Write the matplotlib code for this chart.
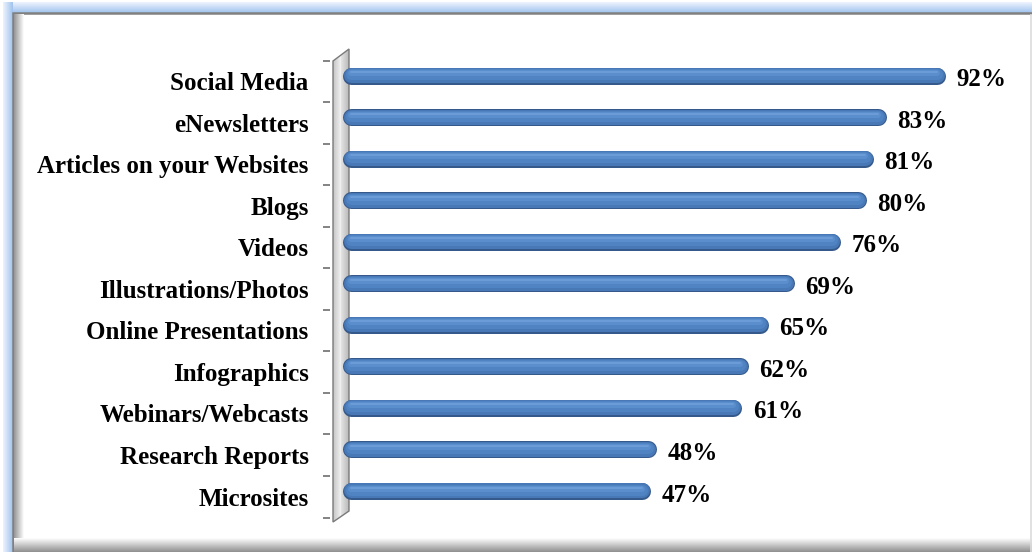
import matplotlib
matplotlib.use("Agg")
import matplotlib.pyplot as plt
import numpy as np
from matplotlib.patches import Polygon, Rectangle
from matplotlib.transforms import offset_copy, ScaledTranslation

categories = [
    "Social Media",
    "eNewsletters",
    "Articles on your Websites",
    "Blogs",
    "Videos",
    "Illustrations/Photos",
    "Online Presentations",
    "Infographics",
    "Webinars/Webcasts",
    "Research Reports",
    "Microsites",
]
values = [92, 83, 81, 80, 76, 69, 65, 62, 61, 48, 47]

W, H, DPI = 1032, 552, 100
plt.rcParams["font.family"] = ["Liberation Serif", "DejaVu Serif"]

fig = plt.figure(figsize=(W / DPI, H / DPI), dpi=DPI)
fig.patch.set_facecolor("white")

# background layer in pixel coordinates: frame, glow, wall
bg = fig.add_axes([0, 0, 1, 1], zorder=0)
bg.set_xlim(0, W)
bg.set_ylim(H, 0)
bg.axis("off")


def grad(ax, extent, c0, c1, horizontal=True, clip=None, z=1):
    t = np.linspace(0, 1, 64)
    c0 = np.array(matplotlib.colors.to_rgb(c0))
    c1 = np.array(matplotlib.colors.to_rgb(c1))
    g = c0[None, :] * (1 - t[:, None]) + c1[None, :] * t[:, None]
    img = g[None, :, :] if horizontal else g[:, None, :]
    im = ax.imshow(img, extent=extent, aspect="auto", zorder=z,
                   interpolation="bilinear")
    if clip is not None:
        im.set_clip_path(clip)
    return im


# blue glow around the frame
grad(bg, (3, W + 5, 13, 2), "#eef4fd", "#9fc2ee", horizontal=False)
grad(bg, (3, 13, H + 5, 2), "#eef4fd", "#9fc2ee", horizontal=True)
bg.add_patch(Rectangle((13, 13), W, H, facecolor="white",
                       edgecolor="#808080", lw=1.8, zorder=2))
# inner shadows
grad(bg, (14, 24, H, 14), "#959595", "#ffffff", z=3)
grad(bg, (14, W, H, 538), "#ffffff", "#8f8f8f", horizontal=False, z=3)
bg.plot([W - 1.5, W - 1.5], [15, H], color="#dcdcdc", lw=1.2, zorder=4)

# chart axes
x_px0, px_per = 342, 6.556
xmax = 100
ax_w = xmax * px_per
y_top, y_bot = 54.45, 517.55
ax = fig.add_axes([x_px0 / W, 1 - y_bot / H, ax_w / W, (y_bot - y_top) / H],
                  zorder=2)
ax.set_facecolor("none")
ax.set_xlim(0, xmax)
ax.set_ylim(len(categories) - 0.5, -0.5)
for s in ["top", "right", "bottom"]:
    ax.spines[s].set_visible(False)
ax.spines["left"].set_position(("outward", 9))
ax.spines["left"].set_color("none")
ax.set_xticks([])

# wall (pseudo 3D)
wall = Polygon([(333, 61), (349, 49), (349, 511), (333, 522)], closed=True,
               facecolor="none", edgecolor="#7a7a7a", lw=1.0, zorder=6)
bg.add_patch(wall)
grad(bg, (333, 341, 522, 49), "#c4c4c4", "#f2f2f2", clip=wall, z=5)
grad(bg, (341, 349, 522, 49), "#e4e4e4", "#b8b8b8", clip=wall, z=5)

# bars as rounded cylinders
bar_px = 17
pad = (bar_px / 2) / px_per
layers = [
    (17, "#35598a", -0.3),
    (15, "#4878b6", 0.2),
    (11, "#4f83c2", 1.0),
    (6, "#5a8ecd", 2.0),
    (2, "#6c9cd7", 3.0),
]
ypos = np.arange(len(categories))
for y, v in zip(ypos, values):
    for lw_px, col, dy in layers:
        tr = offset_copy(ax.transData, fig=fig, x=0, y=dy, units="dots")
        ax.plot([pad, v - pad], [y, y], color=col, lw=lw_px * 72 / DPI,
                solid_capstyle="round", transform=tr, zorder=3)
    ax.annotate(f"{v}%", xy=(v, y), xytext=(11, -4.5), textcoords="offset pixels",
                ha="left", va="center", fontsize=18, fontweight="bold",
                color="black", zorder=4)

ax.set_yticks(ypos)
ax.set_yticklabels(categories, fontsize=18, fontweight="bold")
ax.tick_params(axis="y", which="major", length=0, pad=15)
ax.set_yticks(np.arange(-0.5, len(categories)) + 0.15, minor=True)
ax.tick_params(axis="y", which="minor", length=5, width=1.3, color="#7a7a7a",
               direction="out")
shift = ScaledTranslation(0, -6 / DPI, fig.dpi_scale_trans)
for lab in ax.get_yticklabels():
    lab.set_transform(lab.get_transform() + shift)

fig.savefig("out.png", dpi=DPI)
